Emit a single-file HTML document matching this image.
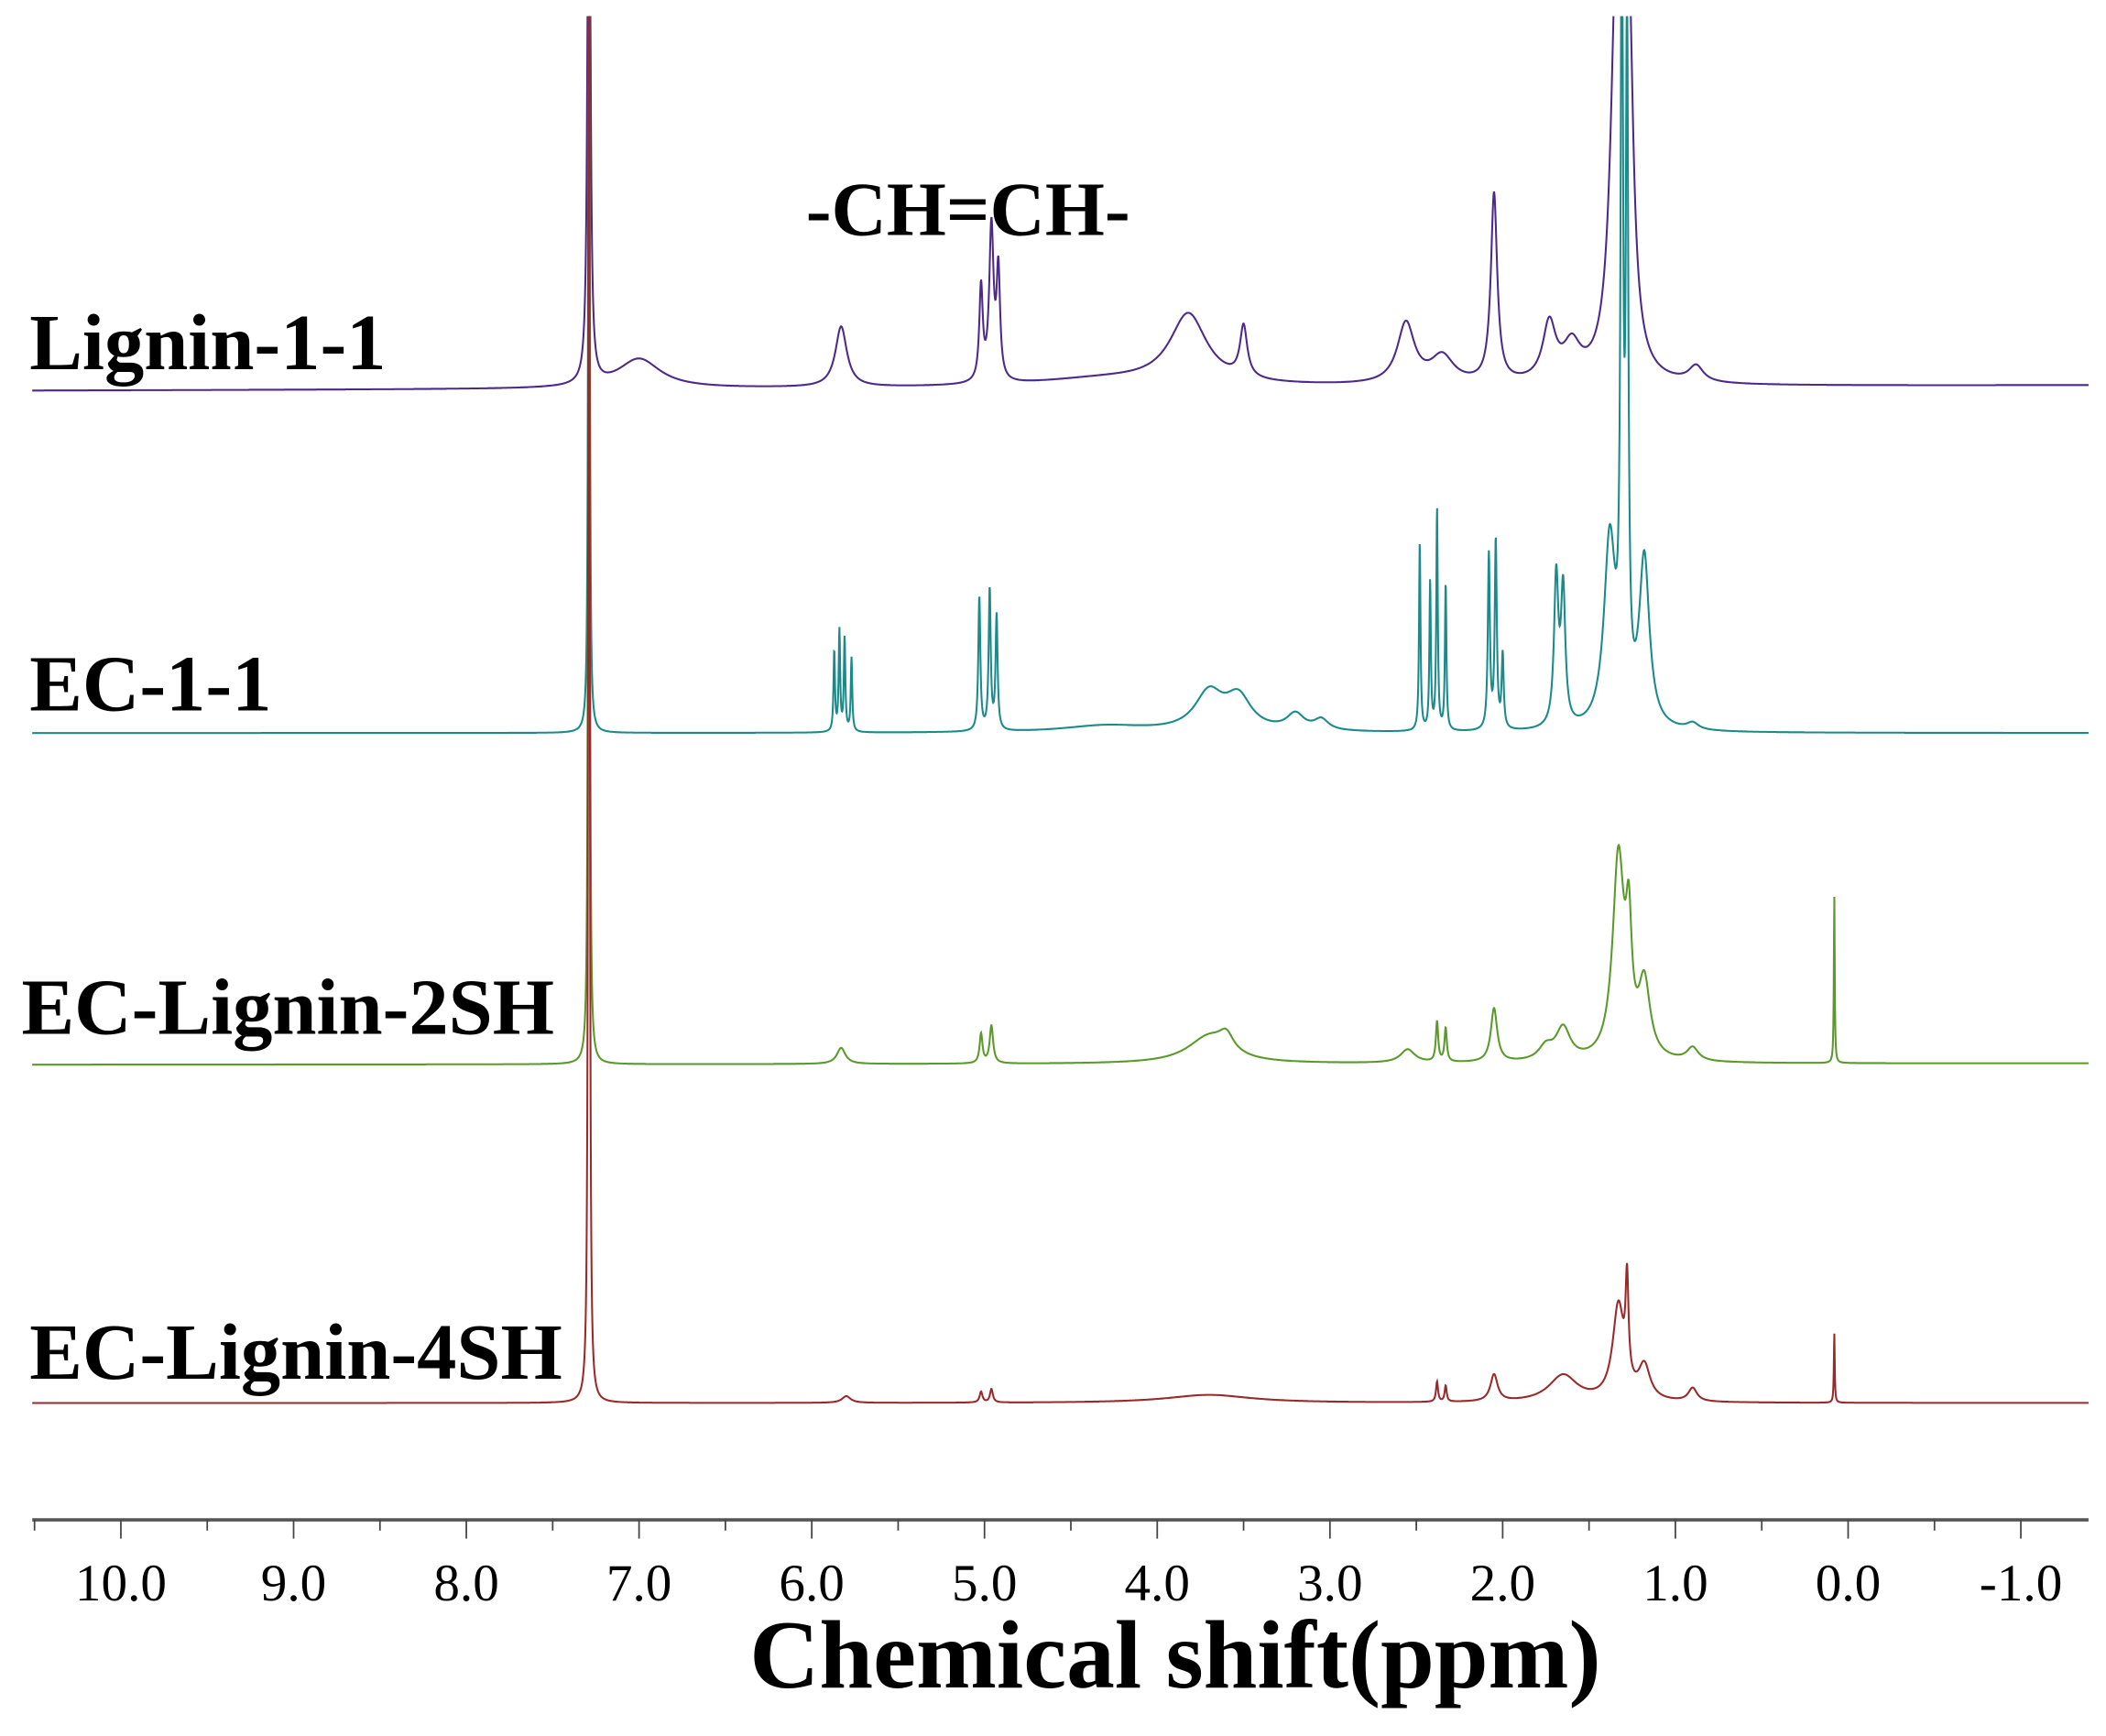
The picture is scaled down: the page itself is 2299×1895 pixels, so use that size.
<!DOCTYPE html>
<html><head><meta charset="utf-8"><style>
html,body{margin:0;padding:0;background:#fff;}
svg{display:block;}
text{font-family:"Liberation Serif",serif;fill:#000;}
</style></head><body>
<svg id="s" width="2299" height="1895" viewBox="0 0 1568 1293" preserveAspectRatio="none" xmlns="http://www.w3.org/2000/svg">
<defs><clipPath id="c"><rect x="0" y="12" width="1568" height="1200"/></clipPath></defs>
<g id="spec" clip-path="url(#c)"></g>
<line x1="24" y1="1132" x2="1555" y2="1132" stroke="#555" stroke-width="2.5"/>
<g id="ticks" stroke="#444" stroke-width="1.2"></g>
<g font-size="39" text-anchor="middle" id="tl"></g>
<text x="875" y="1257" font-size="72" font-weight="bold" text-anchor="middle">Chemical shift(ppm)</text>
<g font-size="59" font-weight="bold">
<text x="22" y="275">Lignin-1-1</text>
<text x="22" y="529">EC-1-1</text>
<text x="16" y="770">EC-Lignin-2SH</text>
<text x="22" y="1027">EC-Lignin-4SH</text>
</g>
<text x="600" y="175" font-size="57" font-weight="bold">-CH=CH-</text>
</svg>
<script>
var NS="http://www.w3.org/2000/svg";
function X(p){return 90+(10-p)*128.6;}
var tk=document.getElementById('ticks'),tl=document.getElementById('tl');
for(var p=10.5;p>=-1.51;p-=0.5){var x=X(p);var maj=Math.abs(p-Math.round(p))<0.01;
var l=document.createElementNS(NS,'line');l.setAttribute('x1',x);l.setAttribute('x2',x);l.setAttribute('y1',1132);l.setAttribute('y2',maj?1146:1140);tk.appendChild(l);
if(maj&&p<=10&&p>=-1){var t=document.createElementNS(NS,'text');t.setAttribute('x',x);t.setAttribute('y',1192);t.textContent=p.toFixed(1);tl.appendChild(t);}}
var S=[
{b0:291,b1:287,c:'#4b2a8c',pk:[[7.29,600,0.008],[7.0,22,0.15],[5.83,45,0.04],[5.02,70,0.012],[4.96,115,0.015],[4.92,80,0.012],[3.82,52,0.13],[3.5,38,0.025],[2.56,45,0.06],[2.35,20,0.08],[2.05,140,0.022],[1.73,42,0.045],[1.6,25,0.06],[1.34,300,0.04],[1.27,250,0.03],[0.88,12,0.05],[4.3,6,0.5]]},
{b0:546,b1:546,c:'#1a8a8a',pk:[[7.29,900,0.004],[5.87,60,0.005],[5.84,75,0.005],[5.81,70,0.005],[5.77,55,0.005],[5.03,100,0.007],[4.97,105,0.007],[4.93,85,0.007],[3.7,28,0.1],[3.53,24,0.09],[3.2,12,0.06],[3.05,8,0.05],[4.3,5,0.3],[2.48,140,0.005],[2.42,110,0.005],[2.38,165,0.005],[2.33,110,0.005],[2.08,130,0.007],[2.04,140,0.007],[2.0,55,0.007],[1.69,110,0.015],[1.65,100,0.015],[1.38,140,0.04],[1.31,600,0.008],[1.28,500,0.008],[1.18,125,0.035],[0.9,5,0.04]]},
{b0:793,b1:792,c:'#5a9a2a',pk:[[7.29,1200,0.004],[5.83,12,0.03],[5.02,22,0.01],[4.96,28,0.012],[3.7,20,0.15],[3.6,12,0.05],[2.55,10,0.05],[2.38,30,0.008],[2.33,25,0.008],[2.05,40,0.022],[1.75,10,0.05],[1.65,24,0.05],[1.33,150,0.04],[1.27,80,0.02],[1.18,55,0.04],[0.9,10,0.04],[0.08,125,0.003]]},
{b0:1045,b1:1045,c:'#9a2a2a',pk:[[7.29,1500,0.004],[5.8,5,0.03],[5.02,8,0.01],[4.96,10,0.01],[3.7,6,0.3],[2.38,15,0.007],[2.33,12,0.007],[2.05,20,0.025],[1.65,20,0.1],[1.33,70,0.04],[1.28,72,0.01],[1.18,25,0.04],[0.9,10,0.03],[0.08,52,0.003]]}];
var g=document.getElementById('spec');
S.forEach(function(s){var d='';for(var x=24;x<=1555;x+=0.25){var p=10-(x-90)/128.6;var y=s.b0+(s.b1-s.b0)*(x-24)/1531;var h=0;
s.pk.forEach(function(k){var u=(p-k[0])/k[2];h+=k[1]/(1+u*u);});
y-=h;if(y<0)y=0;d+=(d?'L':'M')+x.toFixed(2)+' '+y.toFixed(1);}
var pa=document.createElementNS(NS,'path');pa.setAttribute('d',d);pa.setAttribute('fill','none');pa.setAttribute('stroke',s.c);pa.setAttribute('stroke-width','1.4');g.appendChild(pa);});
</script>
</body></html>
